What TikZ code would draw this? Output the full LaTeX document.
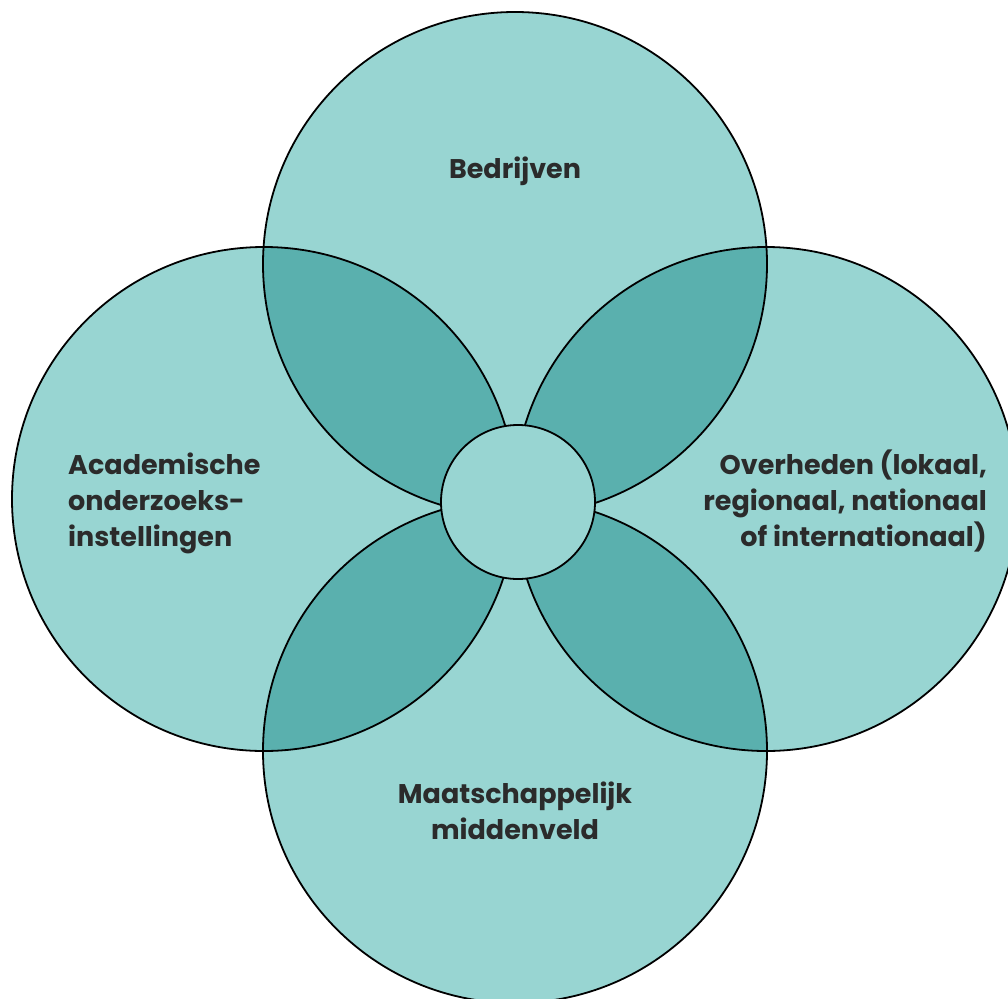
\documentclass[tikz,border=0pt]{standalone}
\usepackage{fontspec}
\setmainfont{Poppins}
\definecolor{light}{HTML}{98D5D2}
\definecolor{dark}{HTML}{5AB0AE}
\definecolor{ink}{HTML}{2B2B2B}
\begin{document}
\begin{tikzpicture}[x=1pt,y=-1pt,
  ring/.style={draw=black,line width=1.8pt},
  label/.style={inner sep=0pt,text=ink,font=\fontsize{27}{36}\selectfont\bfseries}]
\useasboundingbox (0,0) rectangle (1008,998);
\clip (0,0) rectangle (1008,998);
\coordinate (T) at (515,264);
\coordinate (L) at (264,499);
\coordinate (R) at (766,499);
\coordinate (B) at (515,751);
\foreach \c in {T,L,R,B}{\fill[light] (\c) circle[radius=252pt];}
\begin{scope}
  \clip (T) circle[radius=252pt];
  \fill[dark] (L) circle[radius=252pt];
  \fill[dark] (R) circle[radius=252pt];
\end{scope}
\begin{scope}
  \clip (B) circle[radius=252pt];
  \fill[dark] (L) circle[radius=252pt];
  \fill[dark] (R) circle[radius=252pt];
\end{scope}
\foreach \c in {T,L,R,B}{\draw[ring] (\c) circle[radius=252pt];}
\node[ring,circle,fill=light,minimum size=154pt,inner sep=0pt] (C) at (518,502) {};
\node[label,anchor=base] (bed) at (515,178) {Bedrijven};
\node[label,anchor=base west,align=left] (aca) at (68,546) {Academische\\onderzoeks-\\instellingen};
\node[label,anchor=base east,align=right] (ove) at (987,546) {Overheden (lokaal,\\regionaal, nationaal\\of internationaal)};
\node[label,anchor=base,align=center] (maa) at (515,839) {Maatschappelijk\\middenveld};
\end{tikzpicture}
\end{document}
